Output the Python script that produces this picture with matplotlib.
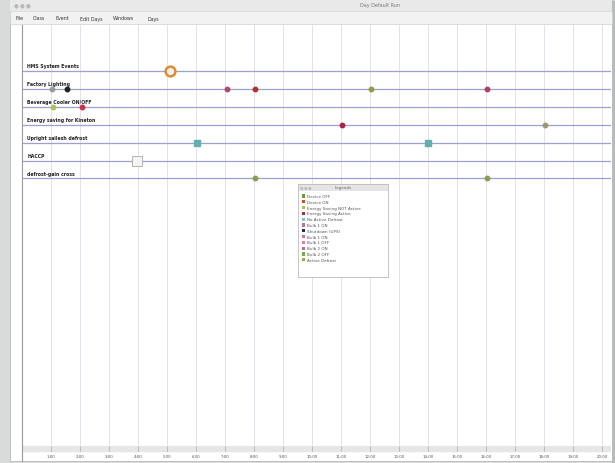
import matplotlib
matplotlib.use("Agg")
import matplotlib.pyplot as plt
from matplotlib.patches import Rectangle

# ---------------- data ----------------
row_labels = ["HMS System Events", "Factory Lighting", "Beverage Cooler ON/OFF",
              "Energy saving for Kineton", "Upright sailesh defrost", "HACCP",
              "defrost-gain cross"]
hour_ticks = list(range(1, 21))
hour_labels = [f"{h}:00" for h in hour_ticks]

ev_row = [1, 1, 1, 1, 1, 1, 2, 2, 3, 3, 4, 4, 6, 6]
ev_hour = [1.03, 1.55, 7.07, 8.03, 12.03, 16.03, 1.07, 2.07, 11.03, 18.03, 6.03, 14.0, 8.03, 16.03]
ev_color = ["#9a9a9a", "#222222", "#b04a6a", "#b03030", "#9a9a40", "#b04060",
            "#b0c060", "#d03040", "#b02040", "#9a9a70", "#60b0b0", "#60b0b0",
            "#8a9a50", "#8a9a50"]
ev_marker = ["o", "o", "o", "o", "o", "o", "o", "o", "o", "o", "s", "s", "o", "o"]

ring_row, ring_hour = 0, 5.1
box_row, box_hour = 5, 3.97

legend_labels = ["Device OFF", "Device ON", "Energy Saving NOT Active",
                 "Energy Saving Active", "No Active Defrost", "Bulb 1 ON",
                 "Shutdown (UPS)", "Bulb 1 ON", "Bulb 1 OFF", "Bulb 2 ON",
                 "Bulb 2 OFF", "Active Defrost"]
legend_colors = ["#6a9a3a", "#d05030", "#b0c050", "#b03040", "#80c0d0",
                 "#c070b0", "#203050", "#e07090", "#e080a0", "#c07080",
                 "#70b040", "#80c040"]

# ---------------- figure ----------------
W, H = 615, 464
fig = plt.figure(figsize=(W / 100, H / 100), dpi=100)
fig.patch.set_facecolor("#d9dbdb")

def px(x, y, w, h):
    return [x / W, 1 - (y + h) / H, w / W, h / H]

# background / window chrome axes in pixel coordinates
bg = fig.add_axes([0, 0, 1, 1], zorder=-10)
bg.set_xlim(0, W)
bg.set_ylim(H, 0)
bg.axis("off")
bg.add_patch(Rectangle((612, 2), 3, 462, facecolor="#b8baba", edgecolor="none"))
bg.add_patch(Rectangle((10, 0), 602, 462, facecolor="white", edgecolor="#b8b8b8", lw=0.6))
bg.add_patch(Rectangle((10, 0), 602, 12, facecolor="#e9e9e9", edgecolor="none"))
bg.add_patch(Rectangle((10, 12), 602, 13, facecolor="#f2f2f2", edgecolor="#d0d0d0", lw=0.5))
for cx in (16, 22, 28):
    bg.text(cx, 6, "●", fontsize=4, color="#b8b8b8", ha="center", va="center")
bg.text(380, 6, "Day Default Run", fontsize=3.5, color="#777777", ha="center", va="center")
menu = ["File", "Class", "Event", "Edit Days", "Windows", "Days"]
mx = [15, 33, 56, 80, 113, 148]
for m, x in zip(menu, mx):
    bg.text(x, 19, m, fontsize=3.4, color="#333333", ha="left", va="center")

# main plot axes
ax_l, ax_t, ax_r, ax_b = 22, 26, 611, 446
ax = fig.add_axes(px(ax_l, ax_t, ax_r - ax_l, ax_b - ax_t))
ax.set_facecolor("white")
x0 = 0.0
x1 = (ax_r - ax_l) / 29.0
ax.set_xlim(x0, x1)
ytop = (ax_t - 72) / 17.9
ybot = (ax_b - 72) / 17.9
ax.set_ylim(ybot, ytop)

for h in hour_ticks:
    ax.axvline(h, color="#e2e2ea", lw=0.7, zorder=0)
for i in range(len(row_labels)):
    ax.axhline(i, color="#9da0d2", lw=0.9, zorder=1)
    ax.text(0.18, i - 0.3, row_labels[i], fontsize=3.3, color="#222222",
            ha="left", va="center", fontweight="bold")

for r, h, c, m in zip(ev_row, ev_hour, ev_color, ev_marker):
    ax.plot([h], [r], marker=m, ms=3.2 if m == "o" else 3.8, color=c,
            mec=c, zorder=3, ls="none")
ax.plot([ring_hour], [ring_row], marker="o", ms=7, mfc="#f2f2f2",
        mec="#e08a30", mew=1.8, zorder=4, ls="none")
ax.plot([box_hour], [box_row], marker="s", ms=7, mfc="#f6f6f0",
        mec="#a8a8a8", mew=0.6, zorder=4, ls="none")

ax.set_xticks([])
ax.set_yticks([])
for s in ("top", "right", "bottom"):
    ax.spines[s].set_visible(False)
ax.spines["left"].set_color("#999999")
ax.spines["left"].set_linewidth(0.8)

# time axis band
tax = fig.add_axes(px(ax_l, 446, ax_r - ax_l, 16))
tax.set_xlim(x0, x1)
tax.set_ylim(0, 1)
tax.set_facecolor("white")
tax.axhspan(0.62, 0.95, color="#e6e6e6", zorder=0)
for h, lab in zip(hour_ticks, hour_labels):
    tax.plot([h, h], [0.62, 0.95], color="#aaaaaa", lw=0.5)
    tax.text(h, 0.3, lab, fontsize=2.8, color="#555555", ha="center", va="center")
tax.set_xticks([])
tax.set_yticks([])
for s in ("top", "right", "bottom"):
    tax.spines[s].set_visible(False)
tax.spines["left"].set_color("#999999")
tax.spines["left"].set_linewidth(0.8)

# legend window
lg_x, lg_y, lg_w, lg_h = 298, 185, 90, 93
bg.add_patch(Rectangle((lg_x + 1.5, lg_y + 1.5), lg_w, lg_h, facecolor="#cfcfcf", edgecolor="none"))
lax = fig.add_axes(px(lg_x, lg_y, lg_w, lg_h), zorder=5)
lax.set_xlim(0, lg_w)
lax.set_ylim(lg_h, 0)
lax.set_facecolor("white")
lax.add_patch(Rectangle((0, 0), lg_w, 7, facecolor="#e4e4e4", edgecolor="none"))
lax.text(lg_w / 2, 3.5, "Legends", fontsize=3, color="#666666", ha="center", va="center")
for cx in (4, 8, 12):
    lax.text(cx, 3.5, "●", fontsize=3, color="#bbbbbb", ha="center", va="center")
for k, (lab, col) in enumerate(zip(legend_labels, legend_colors)):
    yy = 12 + k * 5.8
    lax.add_patch(Rectangle((3.5, yy - 1.6), 3.2, 3.2, facecolor=col, edgecolor="none"))
    lax.text(9, yy, lab, fontsize=3, color="#555555", ha="left", va="center")
lax.set_xticks([])
lax.set_yticks([])
for s in lax.spines.values():
    s.set_color("#bbbbbb")
    s.set_linewidth(0.6)

fig.savefig("out.png", dpi=100, facecolor=fig.get_facecolor())
